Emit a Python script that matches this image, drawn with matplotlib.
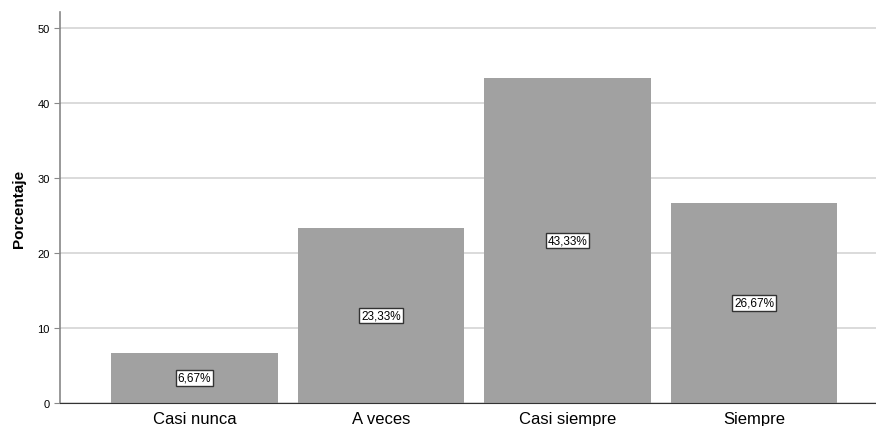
import matplotlib
matplotlib.use("Agg")
import matplotlib.pyplot as plt
import numpy as np

categories = ["Casi nunca", "A veces", "Casi siempre", "Siempre"]
percentages = [6.67, 23.33, 43.33, 26.67]
yticks = [0, 10, 20, 30, 40, 50]

plt.rcParams['font.family'] = ['Liberation Sans', 'DejaVu Sans']

fig = plt.figure(figsize=(8.76, 4.27), dpi=100)
ax = fig.add_axes([60/876, 23/427, 1 - 60/876, (404-13)/427])

x = np.arange(len(categories))
ax.bar(x, percentages, width=0.895, color='#a1a1a1', zorder=2)

# value labels in the middle of each bar
for xi, val in zip(x, percentages):
    txt = f"{val:.2f}%".replace(".", ",")
    ax.text(xi, val / 2, txt, ha='center', va='center', fontsize=8.5, zorder=3,
            bbox=dict(boxstyle='square,pad=0.15', fc='white', ec='#333333', lw=1))

ax.set_xlim(-0.721, 3.654)
ax.set_ylim(0, 52.1)
ax.set_yticks(yticks)
ax.set_xticks(x)
ax.set_xticklabels(categories, fontsize=12)
ax.tick_params(axis='y', labelsize=8, length=4, color='#888888')
ax.tick_params(axis='x', length=0, pad=6)
ax.yaxis.grid(True, color='#d4d4d4', lw=1.2, zorder=1)

ax.set_ylabel("Porcentaje", fontsize=11, fontweight='bold', labelpad=8)

for s in ['top', 'right']:
    ax.spines[s].set_visible(False)
ax.spines['left'].set_color('#888888')
ax.spines['left'].set_linewidth(1.2)
ax.spines['bottom'].set_color('#333333')

fig.savefig("out.png", dpi=100)
